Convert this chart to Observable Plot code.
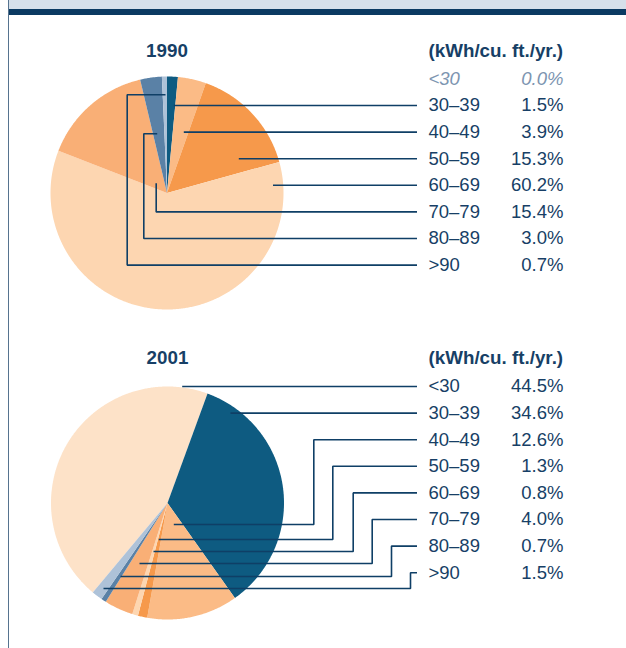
<!DOCTYPE html>
<html>
<head>
<meta charset="utf-8">
<script src="https://cdn.jsdelivr.net/npm/d3@7"></script>
<script src="https://cdn.jsdelivr.net/npm/@observablehq/plot@0.6"></script>
<style>
  html, body { margin: 0; padding: 0; background: #fff; }
  #frame { position: relative; width: 626px; height: 648px; overflow: hidden; }
  #frame svg { position: absolute; left: 0; top: 0; }
  .band-light { position: absolute; left: 9px; top: 0; right: 0; height: 8.5px; background: #d6e0ea; z-index: 2; }
  .band-dark { position: absolute; left: 9px; top: 9px; right: 0; height: 5.5px; background: #0b3a62; z-index: 2; }
  .side-rule { position: absolute; left: 7.5px; top: 0; width: 1.5px; height: 648px; background: #56738f; z-index: 2; }
</style>
</head>
<body>
<div id="frame">
  <div class="band-light"></div>
  <div class="band-dark"></div>
  <div class="side-rule"></div>
</div>
<script>
// ---------------- data ----------------
const categories = ["<30", "30–39", "40–49", "50–59", "60–69", "70–79", "80–89", ">90"];
const years = ["1990", "2001"];
const share1990 = [0.0, 1.5, 3.9, 15.3, 60.2, 15.4, 3.0, 0.7];
const share2001 = [44.5, 34.6, 12.6, 1.3, 0.8, 4.0, 0.7, 1.5];
const unitLabel = "(kWh/cu. ft./yr.)";

// ---------------- layout / style ----------------
const sliceColors = ["#fde2c8", "#0e5b81", "#fbbb86", "#f6994b", "#fdd6b1", "#f9af76", "#5a81a6", "#aec2d8"];
const textColor = "#173f66";
const mutedColor = "#7d95b1";
const leaderColor = "#0f3f66";
const labelX = 428, pctX = 563, leaderEndX = 416.5, rowStep = 26.6;
const labelSize = 18.5, boldSize = 18.8;

// leader anchors: [dx, dy, elbowDx] offsets from the pie centre (dy null => straight line at row height)
const leaders1990 = [null, [6.8, null, null], [16.8, null, null], [71.8, null, null], [106, null, null],
  [-10.8, -9.8, -10.8], [-9.8, -59.2, -23.2], [-1.5, -98.2, -39.8]];
const leaders2001 = [[14.7, null, null], [63, null, null], [6.3, 21.5, 146.3], [-8.7, 36.5, 165.3],
  [-14, 48.5, 185.7], [-28, 60.5, 204.7], [-47, 73.5, 224], [-64, 85.5, 243]];

const pies = [
  {year: years[0], values: share1990, leaders: leaders1990, cx: 166.5, cy: 192.5, r: 116.5, start: 0, rowY0: 78.4, titleY: 50.5},
  {year: years[1], values: share2001, leaders: leaders2001, cx: 167, cy: 502.5, r: 116.5, start: -140.1, rowY0: 386, titleY: 357.5}
];

// ---------------- derived geometry ----------------
const polys = [];
const leaderPts = [];
const rows = [];
for (const p of pies) {
  const arcs = d3.pie().sort(null).value(d => d)
    .startAngle(p.start * Math.PI / 180).endAngle(p.start * Math.PI / 180 + 2 * Math.PI)(p.values);
  arcs.forEach((a, i) => {
    const cat = categories[i];
    if (a.endAngle - a.startAngle <= 0) return;
    const key = p.year + cat;
    polys.push({key, cat, x: p.cx, y: p.cy});
    const n = Math.max(2, Math.ceil((a.endAngle - a.startAngle) / (Math.PI / 360)));
    for (let k = 0; k <= n; k++) {
      const t = a.startAngle + (a.endAngle - a.startAngle) * k / n;
      polys.push({key, cat, x: p.cx + p.r * Math.sin(t), y: p.cy - p.r * Math.cos(t)});
    }
  });
  categories.forEach((cat, i) => {
    const rowY = p.rowY0 + i * rowStep;
    rows.push({year: p.year, cat, value: p.values[i], rowY, muted: p.values[i] === 0});
    const L = p.leaders[i];
    if (!L) return;
    const key = p.year + cat;
    const ax = p.cx + L[0];
    if (L[1] === null) {
      leaderPts.push({key, x: ax, y: rowY}, {key, x: leaderEndX, y: rowY});
    } else {
      const ay = p.cy + L[1], ex = p.cx + L[2];
      leaderPts.push({key, x: ax, y: ay}, {key, x: ex, y: ay}, {key, x: ex, y: rowY}, {key, x: leaderEndX, y: rowY});
    }
  });
}
const titles = pies.map(p => ({year: p.year, x: p.cx, y: p.titleY}));

const chart = Plot.plot({
  width: 626,
  height: 648,
  margin: 0,
  x: {type: "identity", axis: null},
  y: {type: "identity", axis: null},
  color: {domain: categories, range: sliceColors},
  style: {fontFamily: "'Liberation Sans', Arial, Helvetica, sans-serif", background: "transparent"},
  marks: [
    Plot.line(polys, {x: "x", y: "y", z: "key", fill: "cat", stroke: "none", curve: "linear-closed"}),
    Plot.line(leaderPts, {x: "x", y: "y", z: "key", stroke: leaderColor, strokeWidth: 1.6, strokeLinejoin: "miter", strokeLinecap: "butt"}),
    Plot.text(titles, {x: "x", y: "y", text: "year", fontSize: boldSize, fontWeight: "bold", fill: textColor}),
    Plot.text(titles, {x: () => labelX, y: "y", text: () => unitLabel, textAnchor: "start", fontSize: boldSize, fontWeight: "bold", fill: textColor}),
    Plot.text(rows.filter(d => !d.muted), {x: () => labelX, y: "rowY", text: "cat", textAnchor: "start", fontSize: labelSize, fill: textColor}),
    Plot.text(rows.filter(d => !d.muted), {x: () => pctX, y: "rowY", text: d => d.value.toFixed(1) + "%", textAnchor: "end", fontSize: labelSize, fill: textColor}),
    Plot.text(rows.filter(d => d.muted), {x: () => labelX, y: "rowY", text: "cat", textAnchor: "start", fontSize: labelSize, fontStyle: "italic", fill: mutedColor}),
    Plot.text(rows.filter(d => d.muted), {x: () => pctX, y: "rowY", text: d => d.value.toFixed(1) + "%", textAnchor: "end", fontSize: labelSize, fontStyle: "italic", fill: mutedColor})
  ]
});
document.getElementById("frame").prepend(chart);
</script>
</body>
</html>
